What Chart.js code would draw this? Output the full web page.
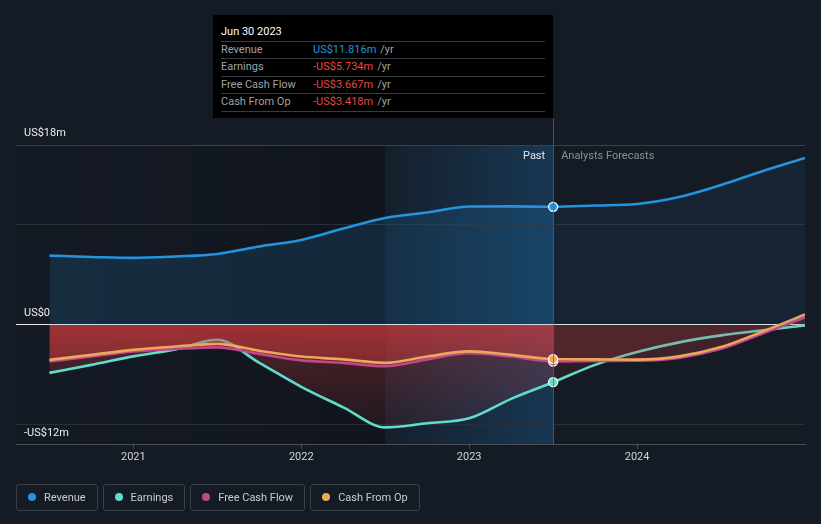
<!DOCTYPE html>
<html><head><meta charset="utf-8">
<script src="https://cdn.jsdelivr.net/npm/chart.js@4.4.1/dist/chart.umd.min.js"></script>
<style>
html,body{margin:0;padding:0;background:#151b25;width:821px;height:524px;overflow:hidden;font-family:Roboto,"Noto Sans",sans-serif;}
#wrap{position:relative;width:821px;height:524px;}
canvas{position:absolute;left:0;top:0;}
#tip{position:absolute;left:213px;top:15px;width:340px;height:103px;background:#000;font-size:11px;}
#tip .title{position:absolute;left:8px;top:10px;line-height:14px;color:#fff;}
#tip .sep{position:absolute;left:8px;width:324px;height:1px;background:#3a3c40;}
#tip .row{position:absolute;left:8px;width:324px;display:flex;align-items:center;}
#tip .lab{width:92px;color:#9ea2a8;}
#tip .val{color:#e8473f;}
#tip .val.pos{color:#2394df;}
#tip .unit{color:#9ea2a8;margin-left:4px;}
#legend{position:absolute;left:16px;top:484px;display:flex;gap:5px;}
#legend .item{box-sizing:border-box;height:27px;border:1px solid #393e47;border-radius:3px;padding:0 11px 1px 11px;display:flex;align-items:center;font-size:11px;color:#c9ccd1;}
#legend .dot{width:8px;height:8px;border-radius:50%;margin-right:8px;}
</style></head>
<body>
<div id="wrap">
<canvas id="c" width="821" height="524"></canvas>
<div id="tip"></div>
<div id="legend"></div>
</div>
<script>
// ---- data (values in US$ millions, x in decimal years) ----
const periods       = [2020.5, 2020.75, 2021.0, 2021.25, 2021.5, 2021.75, 2022.0, 2022.25, 2022.5, 2022.75, 2023.0, 2023.25, 2023.5, 2023.75, 2024.0, 2024.25, 2024.5, 2024.75, 2025.0];
const revenue       = [6.93, 6.8, 6.7, 6.85, 7.1, 7.85, 8.5, 9.64, 10.7, 11.25, 11.85, 11.86, 11.816, 11.95, 12.1, 12.8, 14.0, 15.4, 16.7];
const earnings      = [-4.8, -4.0, -3.15, -2.45, -1.5, -3.8, -6.2, -8.25, -10.26, -9.85, -9.35, -7.4, -5.734, -4.0, -2.72, -1.75, -1.05, -0.53, -0.06];
const freeCashFlow  = [-3.65, -3.15, -2.65, -2.4, -2.25, -2.9, -3.55, -3.8, -4.14, -3.45, -2.84, -3.17, -3.667, -3.6, -3.58, -3.3, -2.4, -0.85, 0.75];
const cashFromOp    = [-3.5, -3.0, -2.5, -2.17, -1.9, -2.6, -3.17, -3.45, -3.8, -3.17, -2.65, -3.0, -3.418, -3.45, -3.48, -3.15, -2.22, -0.65, 1.04];
const seriesNames   = ['Revenue', 'Earnings', 'Free Cash Flow', 'Cash From Op'];
const seriesColors  = ['#2394df', '#5fdccb', '#c6458a', '#e9a85b'];
const xTickYears    = [2021, 2022, 2023, 2024];
const yTickValues   = [18, 10, 0, -10, -12];
const yTickTexts    = ['US$18m', '', 'US$0', '', '-US$12m'];
const pastEnd       = 2023.5;
const bandStart     = 2022.5;
const tooltipTitle  = 'Jun 30 2023';
const tooltipValues = ['US$11.816m', '-US$5.734m', '-US$3.667m', '-US$3.418m'];

// ---- HTML tooltip & legend ----
(function(){
  const tip = document.getElementById('tip');
  let h = '<div class="title">' + tooltipTitle + '</div>';
  const seps = [26, 43, 61, 78, 96];
  seps.forEach(s => { h += '<div class="sep" style="top:' + s + 'px"></div>'; });
  for (let i = 0; i < 4; i++) {
    const top = seps[i], ht = seps[i + 1] - seps[i] - 1;
    h += '<div class="row" style="top:' + top + 'px;height:' + ht + 'px"><span class="lab">' + seriesNames[i] +
         '</span><span class="val' + (i === 0 ? ' pos' : '') + '">' + tooltipValues[i] + '</span><span class="unit">/yr</span></div>';
  }
  tip.innerHTML = h;
  const lg = document.getElementById('legend');
  lg.innerHTML = seriesNames.map((n, i) => '<div class="item"><span class="dot" style="background:' + seriesColors[i] + '"></span>' + n + '</div>').join('');
})();

function pts(arr){ return periods.map((p, i) => ({x: p, y: arr[i]})); }

function redGrad(chart){
  const a = chart.chartArea; if (!a) return 'rgba(226,65,65,0.2)';
  const y0 = chart.scales.y.getPixelForValue(0);
  const g = chart.ctx.createLinearGradient(0, y0, 0, a.bottom);
  g.addColorStop(0, 'rgba(226,62,62,0.31)');
  g.addColorStop(1, 'rgba(226,62,62,0.04)');
  return g;
}
const forecastRed = 'rgba(226,62,62,0.11)';
const pastBlue = 'rgba(35,148,223,0.15)';
const forecastBlue = 'rgba(35,148,223,0.075)';

function mkDataset(idx, arr, order){
  const color = seriesColors[idx];
  const isRev = idx === 0;
  return {
    label: seriesNames[idx],
    data: pts(arr),
    borderColor: color,
    borderWidth: 2.6,
    cubicInterpolationMode: 'monotone',
    fill: 'origin',
    backgroundColor: isRev ? pastBlue : (ctx => redGrad(ctx.chart)),
    segment: {
      backgroundColor: ctx => ctx.p0.parsed.x >= pastEnd - 1e-6 ? (isRev ? forecastBlue : forecastRed) : undefined
    },
    pointRadius: ctx => (ctx.raw && Math.abs(ctx.raw.x - pastEnd) < 1e-6) ? 4.5 : 0,
    pointBackgroundColor: color,
    pointBorderColor: '#ffffff',
    pointBorderWidth: 1.3,
    order: order
  };
}

const decor = {
  id: 'decor',
  beforeDraw(chart){
    const {ctx, chartArea: a, scales: {x}} = chart;
    const xb0 = x.getPixelForValue(bandStart), xb1 = x.getPixelForValue(pastEnd);
    ctx.save();
    let g = ctx.createLinearGradient(a.left, 0, xb0, 0);
    g.addColorStop(0, 'rgba(0,0,0,0)');
    g.addColorStop(1, 'rgba(0,0,0,0.2)');
    ctx.fillStyle = g;
    ctx.fillRect(a.left, a.top, xb0 - a.left, a.bottom - a.top);
    g = ctx.createLinearGradient(xb0, 0, xb1, 0);
    g.addColorStop(0, 'rgba(33,120,190,0.05)');
    g.addColorStop(1, 'rgba(33,120,190,0.30)');
    ctx.fillStyle = g;
    ctx.fillRect(xb0, a.top, xb1 - xb0, a.bottom - a.top);
    ctx.restore();
  },
  afterDraw(chart){
    const {ctx, chartArea: a, scales: {x}} = chart;
    const xp = x.getPixelForValue(pastEnd);
    ctx.save();
    ctx.strokeStyle = 'rgba(60,110,155,0.75)';
    ctx.lineWidth = 1;
    ctx.beginPath();
    ctx.moveTo(Math.round(xp) + 0.5, 118);
    ctx.lineTo(Math.round(xp) + 0.5, a.bottom);
    ctx.stroke();
    ctx.font = '11px Roboto, "Noto Sans", sans-serif';
    ctx.textBaseline = 'middle';
    ctx.textAlign = 'right';
    ctx.fillStyle = '#e6e8eb';
    ctx.fillText('Past', xp - 8, a.top + 11);
    ctx.textAlign = 'left';
    ctx.fillStyle = '#8b9097';
    ctx.fillText('Analysts Forecasts', xp + 8, a.top + 11);
    ctx.restore();
  }
};

function gridColor(v){
  if (v === 0) return '#e9e9e9';
  if (v === 18 || v === -12) return '#3b4048';
  return '#2a2f37';
}

new Chart(document.getElementById('c'), {
  type: 'line',
  data: {
    datasets: [
      mkDataset(0, revenue, 1),
      mkDataset(1, earnings, 4),
      mkDataset(2, freeCashFlow, 3),
      mkDataset(3, cashFromOp, 2)
    ]
  },
  options: {
    responsive: false,
    animation: false,
    events: [],
    devicePixelRatio: 1,
    layout: { padding: { left: 0, right: 16, top: 145, bottom: 58 } },
    plugins: { legend: { display: false }, tooltip: { enabled: false } },
    scales: {
      x: {
        type: 'linear',
        min: 2020.301,
        max: 2025.0,
        afterBuildTicks: s => { s.ticks = xTickYears.map(v => ({ value: v })); },
        ticks: {
          callback: v => String(v),
          color: '#d3d6da',
          font: { family: 'Roboto', size: 11 },
          padding: 2,
          maxRotation: 0,
          autoSkip: false
        },
        grid: { drawOnChartArea: false, drawTicks: true, tickLength: 4, color: '#4a4f57' },
        border: { display: true, color: '#4a4f57', width: 1 }
      },
      y: {
        type: 'linear',
        min: -12,
        max: 18,
        afterBuildTicks: s => { s.ticks = yTickValues.map(v => ({ value: v })); },
        ticks: {
          mirror: true,
          padding: 8,
          labelOffset: -12,
          callback: v => yTickTexts[yTickValues.indexOf(v)] || '',
          color: '#eceef0',
          font: { family: 'Roboto', size: 11 },
          autoSkip: false
        },
        grid: { drawTicks: false, color: c => gridColor(c.tick ? c.tick.value : null), lineWidth: 1 },
        border: { display: false }
      }
    }
  },
  plugins: [decor]
});
</script>
</body></html>
